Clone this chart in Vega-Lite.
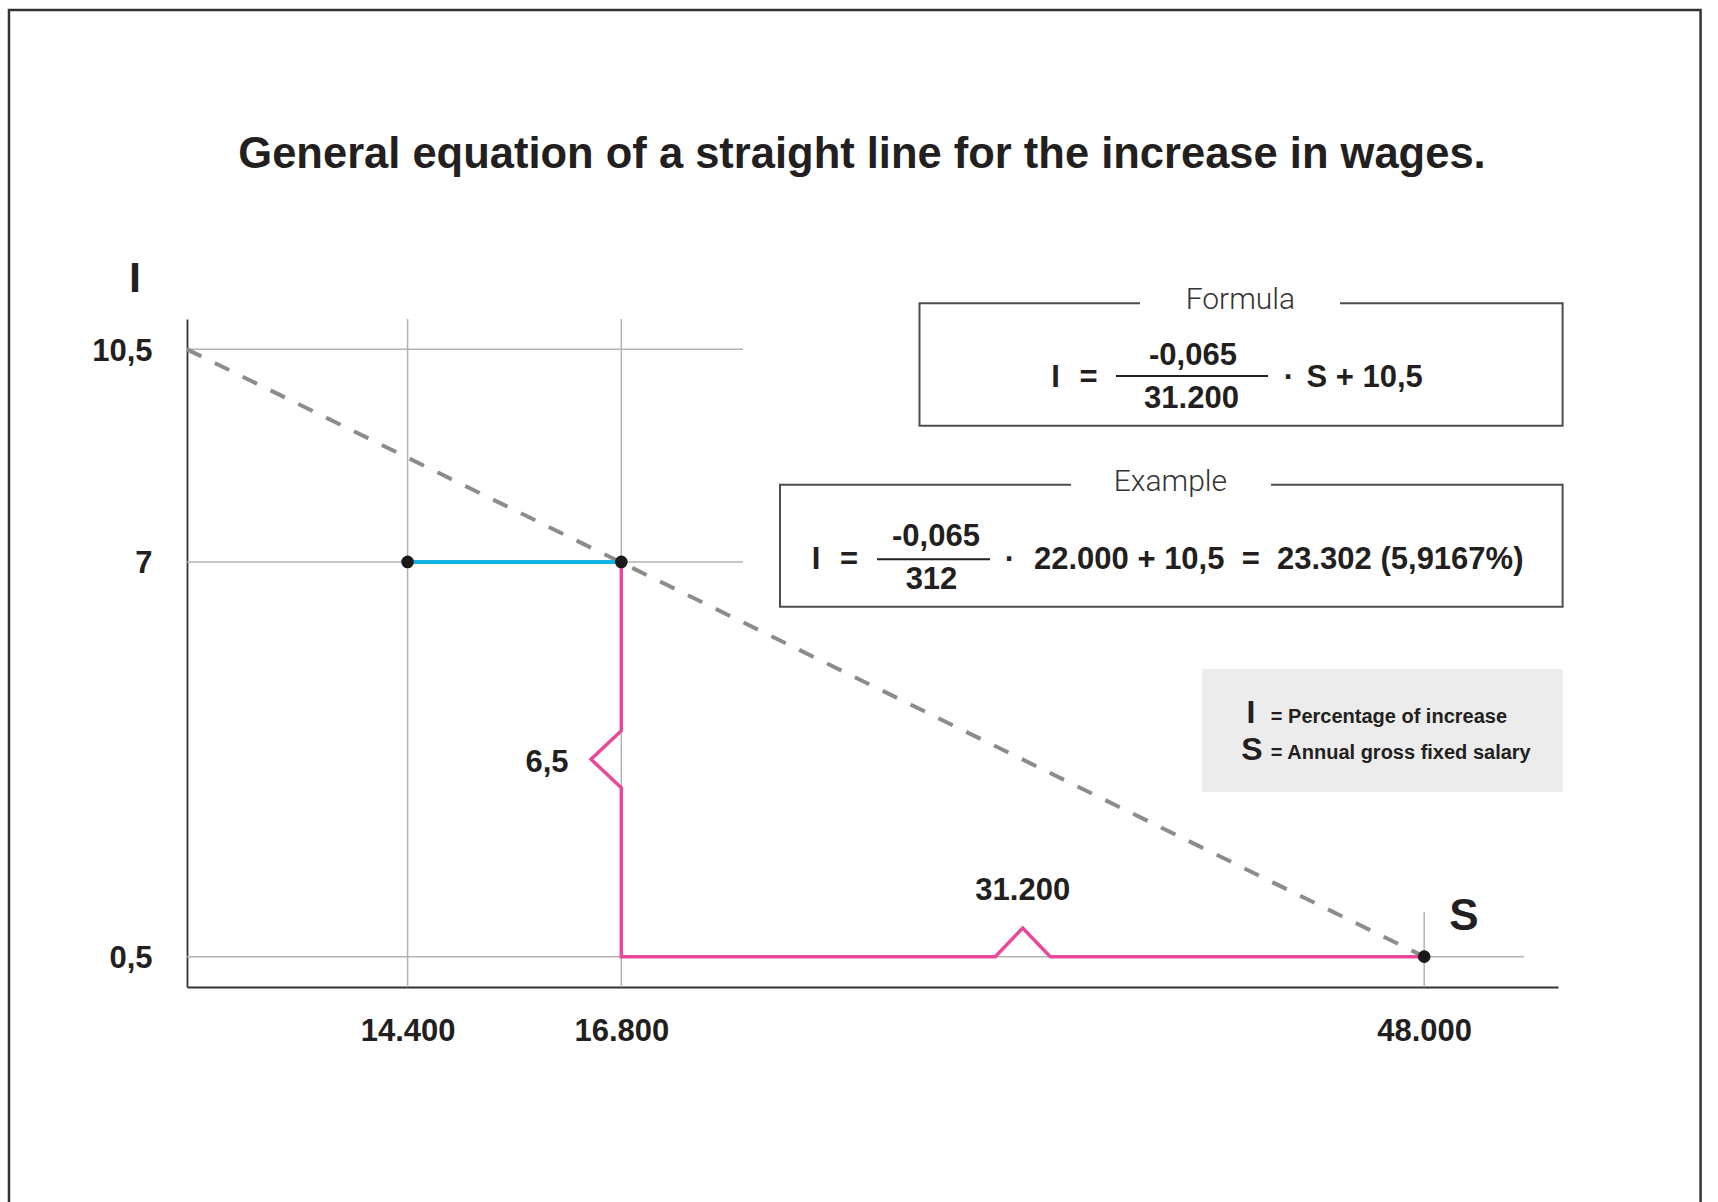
{
  "$schema": "https://vega.github.io/schema/vega-lite/v6.json",
  "width": 1371,
  "height": 668,
  "autosize": {"type": "none"},
  "padding": {"left": 187, "top": 319, "right": 160, "bottom": 215},
  "background": "white",
  "config": {"view": {"stroke": null}, "font": "Liberation Sans"},
  "title": {
    "text": "General equation of a straight line for the increase in wages.",
    "font": "Liberation Sans", "fontSize": 43.5, "fontWeight": "bold", "color": "#231f20",
    "anchor": "middle", "frame": "group", "baseline": "alphabetic", "offset": -203, "dx": -10.5
  },
  "datasets": {
    "slope": [{"S": 0, "I": 10.5}, {"S": 48000, "I": 0.5}],
    "range7": [{"S": 14400, "I": 7}, {"S": 16800, "I": 7}],
    "steps": [
      {"k": 1, "S": 16800, "I": 7},
      {"k": 2, "S": 16800, "I": 4.22},
      {"k": 3, "S": 16460, "I": 3.75},
      {"k": 4, "S": 16800, "I": 3.28},
      {"k": 5, "S": 16800, "I": 0.5},
      {"k": 6, "S": 31330, "I": 0.5},
      {"k": 7, "S": 32400, "I": 0.97},
      {"k": 8, "S": 33470, "I": 0.5},
      {"k": 9, "S": 48000, "I": 0.5}
    ],
    "points": [{"S": 14400, "I": 7}, {"S": 16800, "I": 7}, {"S": 48000, "I": 0.5}],
    "vgrid": [{"S": 14400}, {"S": 16800}],
    "hgrid": [{"I": 10.5}, {"I": 7}]
  },
  "data": {"values": [{}]},
  "layer": [
    {
      "mark": {"type": "rect", "filled": false, "color": "#333333", "strokeWidth": 2.5},
      "encoding": {
        "x": {"datum": -11620, "type": "quantitative", "scale": {"domain": [0, 14400, 16800, 53200], "range": [0, 220.6, 434.3, 1371], "nice": false, "zero": false}},
        "x2": {"datum": 58740},
        "y": {"datum": 16.09, "type": "quantitative", "scale": {"domain": [0, 11], "nice": false, "zero": false}},
        "y2": {"datum": -3.75}
      }
    },
    {
      "data": {"name": "vgrid"},
      "mark": {"type": "rule", "color": "#b3b3b3", "strokeWidth": 1.5},
      "encoding": {"x": {"field": "S", "type": "quantitative"}}
    },
    {
      "data": {"name": "hgrid"},
      "mark": {"type": "rule", "color": "#b3b3b3", "strokeWidth": 1.5},
      "encoding": {"y": {"field": "I", "type": "quantitative"}, "x": {"datum": 0}, "x2": {"datum": 21530}}
    },
    {
      "mark": {"type": "rule", "color": "#b3b3b3", "strokeWidth": 1.5},
      "encoding": {"y": {"datum": 0.5}, "x": {"datum": 0}, "x2": {"datum": 51880}}
    },
    {
      "mark": {"type": "rule", "color": "#b3b3b3", "strokeWidth": 1.5},
      "encoding": {"x": {"datum": 48000}, "y": {"datum": 0}, "y2": {"datum": 1.235}}
    },
    {
      "mark": {"type": "rect", "filled": false, "color": "#4d4d4d", "strokeWidth": 2},
      "encoding": {"x": {"datum": 28388}, "x2": {"datum": 53379}, "y": {"datum": 11.2585}, "y2": {"datum": 9.2429}}
    },
    {
      "mark": {"type": "rect", "color": "white"},
      "encoding": {"x": {"datum": 36956}, "x2": {"datum": 44728}, "y": {"datum": 11.395}, "y2": {"datum": 11.115}}
    },
    {
      "mark": {"type": "rect", "filled": false, "color": "#4d4d4d", "strokeWidth": 2},
      "encoding": {"x": {"datum": 22967}, "x2": {"datum": 53379}, "y": {"datum": 8.2715}, "y2": {"datum": 6.2624}}
    },
    {
      "mark": {"type": "rect", "color": "white"},
      "encoding": {"x": {"datum": 34275}, "x2": {"datum": 42047}, "y": {"datum": 8.4147}, "y2": {"datum": 8.1347}}
    },
    {
      "mark": {"type": "rect", "color": "#ececec"},
      "encoding": {"x": {"datum": 39366}, "x2": {"datum": 53379}, "y": {"datum": 5.2365}, "y2": {"datum": 3.2111}}
    },
    {
      "data": {"name": "slope"},
      "mark": {"type": "line", "color": "#8c8c8c", "strokeWidth": 4, "strokeDash": [16, 15], "strokeCap": "butt"},
      "encoding": {"x": {"field": "S", "type": "quantitative"}, "y": {"field": "I", "type": "quantitative"}}
    },
    {
      "data": {"name": "range7"},
      "mark": {"type": "line", "color": "#12b4e6", "strokeWidth": 4},
      "encoding": {"x": {"field": "S", "type": "quantitative"}, "y": {"field": "I", "type": "quantitative"}}
    },
    {
      "data": {"name": "steps"},
      "mark": {"type": "line", "color": "#e9489b", "strokeWidth": 3.5, "strokeJoin": "miter"},
      "encoding": {
        "x": {
          "field": "S", "type": "quantitative",
          "axis": {
            "title": "S", "values": [14400, 16800, 48000], "grid": false, "ticks": false,
            "domain": true, "domainColor": "#333333", "domainWidth": 1.8,
            "labelExpr": "replace(format(datum.value, ','), ',', '.')",
            "labelFont": "Liberation Sans", "labelFontSize": 31, "labelFontWeight": "bold", "labelColor": "#231f20",
            "labelPadding": 29, "labelFlush": false, "labelOverlap": false,
            "titleFont": "Liberation Sans", "titleFontSize": 44, "titleFontWeight": "bold", "titleColor": "#231f20",
            "titleX": 1276.5, "titleY": -58, "titleAlign": "center", "titleBaseline": "alphabetic", "titleAngle": 0
          }
        },
        "y": {
          "field": "I", "type": "quantitative",
          "axis": {
            "title": "I", "values": [0.5, 7, 10.5], "grid": false, "ticks": false,
            "domain": true, "domainColor": "#333333", "domainWidth": 1.8,
            "labelExpr": "replace(format(datum.value, '~g'), '.', ',')",
            "labelFont": "Liberation Sans", "labelFontSize": 31, "labelFontWeight": "bold", "labelColor": "#231f20",
            "labelPadding": 35, "labelAlign": "right", "labelBaseline": "alphabetic", "labelOffset": 11,
            "labelFlush": false, "labelOverlap": false,
            "titleFont": "Liberation Sans", "titleFontSize": 43, "titleFontWeight": "bold", "titleColor": "#231f20",
            "titleX": -52.5, "titleY": -28, "titleAlign": "center", "titleBaseline": "alphabetic", "titleAngle": 0
          }
        },
        "order": {"field": "k", "type": "quantitative"}
      }
    },
    {
      "data": {"name": "points"},
      "mark": {"type": "point", "filled": true, "color": "#1a1a1a", "size": 160, "opacity": 1},
      "encoding": {"x": {"field": "S", "type": "quantitative"}, "y": {"field": "I", "type": "quantitative"}}
    },
    {
      "mark": {"type": "text", "text": "Formula", "font": "Roboto", "fontWeight": 300, "fontSize": 30, "color": "#333333", "align": "center", "baseline": "alphabetic"},
      "encoding": {"x": {"datum": 40858}, "y": {"datum": 11.17}}
    },
    {
      "mark": {"type": "text", "text": "Example", "font": "Roboto", "fontWeight": 300, "fontSize": 30, "color": "#333333", "align": "center", "baseline": "alphabetic"},
      "encoding": {"x": {"datum": 38138}, "y": {"datum": 8.17}}
    },
    {
      "mark": {"type": "text", "text": "I", "fontSize": 31, "fontWeight": "bold", "color": "#231f20", "align": "center", "baseline": "alphabetic"},
      "encoding": {"x": {"datum": 33673}, "y": {"datum": 9.888}}
    },
    {
      "mark": {"type": "text", "text": "=", "fontSize": 31, "fontWeight": "bold", "color": "#231f20", "align": "center", "baseline": "alphabetic"},
      "encoding": {"x": {"datum": 34955}, "y": {"datum": 9.888}}
    },
    {
      "mark": {"type": "text", "text": "-0,065", "fontSize": 31, "fontWeight": "bold", "color": "#231f20", "align": "center", "baseline": "alphabetic"},
      "encoding": {"x": {"datum": 39016}, "y": {"datum": 10.243}}
    },
    {
      "mark": {"type": "rule", "color": "#231f20", "strokeWidth": 2},
      "encoding": {"x": {"datum": 36024}, "x2": {"datum": 41931}, "y": {"datum": 10.061}}
    },
    {
      "mark": {"type": "text", "text": "31.200", "fontSize": 31, "fontWeight": "bold", "color": "#231f20", "align": "center", "baseline": "alphabetic"},
      "encoding": {"x": {"datum": 38958}, "y": {"datum": 9.534}}
    },
    {
      "mark": {"type": "text", "text": "·", "fontSize": 31, "fontWeight": "bold", "color": "#231f20", "align": "center", "baseline": "alphabetic"},
      "encoding": {"x": {"datum": 42747}, "y": {"datum": 9.888}}
    },
    {
      "mark": {"type": "text", "text": "S + 10,5", "fontSize": 31, "fontWeight": "bold", "color": "#231f20", "align": "left", "baseline": "alphabetic"},
      "encoding": {"x": {"datum": 43427}, "y": {"datum": 9.888}}
    },
    {
      "mark": {"type": "text", "text": "I", "fontSize": 31, "fontWeight": "bold", "color": "#231f20", "align": "center", "baseline": "alphabetic"},
      "encoding": {"x": {"datum": 24366}, "y": {"datum": 6.89}}
    },
    {
      "mark": {"type": "text", "text": "=", "fontSize": 31, "fontWeight": "bold", "color": "#231f20", "align": "center", "baseline": "alphabetic"},
      "encoding": {"x": {"datum": 25648}, "y": {"datum": 6.89}}
    },
    {
      "mark": {"type": "text", "text": "-0,065", "fontSize": 31, "fontWeight": "bold", "color": "#231f20", "align": "center", "baseline": "alphabetic"},
      "encoding": {"x": {"datum": 29029}, "y": {"datum": 7.262}}
    },
    {
      "mark": {"type": "rule", "color": "#231f20", "strokeWidth": 2},
      "encoding": {"x": {"datum": 26737}, "x2": {"datum": 31128}, "y": {"datum": 7.045}}
    },
    {
      "mark": {"type": "text", "text": "312", "fontSize": 31, "fontWeight": "bold", "color": "#231f20", "align": "center", "baseline": "alphabetic"},
      "encoding": {"x": {"datum": 28854}, "y": {"datum": 6.554}}
    },
    {
      "mark": {"type": "text", "text": "·", "fontSize": 31, "fontWeight": "bold", "color": "#231f20", "align": "center", "baseline": "alphabetic"},
      "encoding": {"x": {"datum": 31905}, "y": {"datum": 6.89}}
    },
    {
      "mark": {"type": "text", "text": "22.000 + 10,5\u00a0\u00a0=\u00a0\u00a023.302 (5,9167%)", "fontSize": 31, "fontWeight": "bold", "color": "#231f20", "align": "left", "baseline": "alphabetic"},
      "encoding": {"x": {"datum": 32837}, "y": {"datum": 6.89}}
    },
    {
      "mark": {"type": "text", "text": "I", "fontSize": 32, "fontWeight": "bold", "color": "#231f20", "align": "center", "baseline": "alphabetic"},
      "encoding": {"x": {"datum": 41270}, "y": {"datum": 4.3473}}
    },
    {
      "mark": {"type": "text", "text": "S", "fontSize": 32, "fontWeight": "bold", "color": "#231f20", "align": "center", "baseline": "alphabetic"},
      "encoding": {"x": {"datum": 41309}, "y": {"datum": 3.7381}}
    },
    {
      "mark": {"type": "text", "text": "= Percentage of increase", "fontSize": 20, "fontWeight": "bold", "color": "#231f20", "align": "left", "baseline": "alphabetic"},
      "encoding": {"x": {"datum": 42040}, "y": {"datum": 4.3473}}
    },
    {
      "mark": {"type": "text", "text": "= Annual gross fixed salary", "fontSize": 20, "fontWeight": "bold", "color": "#231f20", "align": "left", "baseline": "alphabetic"},
      "encoding": {"x": {"datum": 42040}, "y": {"datum": 3.7545}}
    },
    {
      "mark": {"type": "text", "text": "6,5", "fontSize": 31, "fontWeight": "bold", "color": "#231f20", "align": "right", "baseline": "alphabetic"},
      "encoding": {"x": {"datum": 16207}, "y": {"datum": 3.5404}}
    },
    {
      "mark": {"type": "text", "text": "31.200", "fontSize": 31, "fontWeight": "bold", "color": "#231f20", "align": "center", "baseline": "alphabetic"},
      "encoding": {"x": {"datum": 32400}, "y": {"datum": 1.4326}}
    }
  ]
}
